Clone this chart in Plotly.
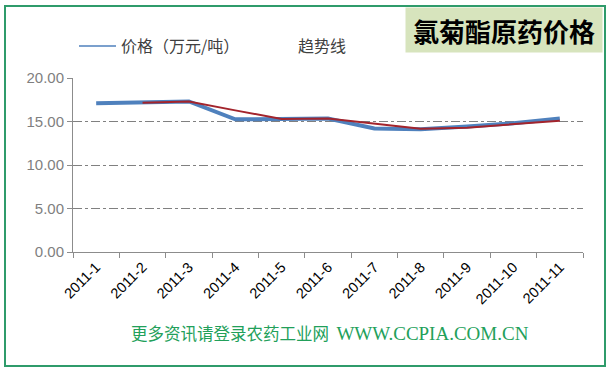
import plotly.graph_objects as go

months = ["2011-1", "2011-2", "2011-3", "2011-4", "2011-5", "2011-6",
          "2011-7", "2011-8", "2011-9", "2011-10", "2011-11"]
price = [17.1, 17.2, 17.3, 15.25, 15.35, 15.35, 14.2, 14.12, 14.42, 14.8, 15.35]
trend = [None, 17.15, 17.3, 16.28, 15.3, 15.35, 14.78, 14.16, 14.28, 14.65, 15.1]
yticks = [0, 5, 10, 15, 20]
ytick_labels = ["0.00", "5.00", "10.00", "15.00", "20.00"]

L, R, T, B = 73, 31, 78, 122
W, H = 614, 374
PW, PH = W - L - R, H - T - B


def px(x):
    return (x - L) / PW


def py(y):
    return (H - B - y) / PH


fig = go.Figure()
fig.add_trace(go.Scatter(
    x=months, y=price, mode="lines", name="价格（万元/吨）",
    line=dict(color="#4f81bd", width=4), showlegend=False))
fig.add_trace(go.Scatter(
    x=months, y=trend, mode="lines", name="趋势线",
    line=dict(color="#a3242c", width=2), showlegend=False))
# legend entries
fig.add_trace(go.Scatter(
    x=[None], y=[None], mode="lines", name="价格（万元/吨）",
    line=dict(color="#4f81bd", width=1.5), legend="legend"))
fig.add_trace(go.Scatter(
    x=[None], y=[None], mode="lines", name="趋势线",
    line=dict(color="rgba(0,0,0,0)", width=2), legend="legend2"))

grid = "#808080"
fig.update_layout(
    width=W, height=H,
    margin=dict(l=L, r=R, t=T, b=B, autoexpand=False),
    paper_bgcolor="white", plot_bgcolor="white",
    font=dict(family="Noto Sans CJK SC, Liberation Sans, sans-serif"),
    xaxis=dict(
        type="category", showgrid=False, showline=True, linecolor="#8c8c8c",
        linewidth=1, ticks="outside", ticklen=5, tickcolor="#8c8c8c",
        tickson="boundaries", tickangle=-45,
        tickfont=dict(family="Liberation Sans", size=14.5, color="#000000"),
        range=[-0.5, 10.5], fixedrange=True, automargin=False),
    yaxis=dict(
        range=[0, 20], tickvals=yticks, ticktext=ytick_labels,
        showgrid=True, gridcolor=grid, griddash="dashdot", gridwidth=1,
        showline=True, linecolor="#8c8c8c", linewidth=1,
        ticks="outside", ticklen=5, tickcolor="#8c8c8c",
        tickfont=dict(family="Liberation Sans", size=15, color="#7f7f7f"),
        zeroline=False, fixedrange=True, automargin=False),
    legend=dict(
        orientation="h", x=px(74), y=py(46), xanchor="left", yanchor="middle",
        bgcolor="rgba(0,0,0,0)", itemwidth=37,
        font=dict(family="Noto Sans CJK SC", size=16, color="#404040")),
    legend2=dict(
        orientation="h", x=px(251), y=py(46), xanchor="left", yanchor="middle",
        bgcolor="rgba(0,0,0,0)", itemwidth=37,
        font=dict(family="Noto Sans CJK SC", size=16, color="#404040")),
    showlegend=True,
)

# title box
fig.add_annotation(
    xref="paper", yref="paper", x=px(603), y=py(7), xanchor="right", yanchor="top",
    text="<b>氯菊酯原药价格</b>", showarrow=False,
    font=dict(family="Noto Sans CJK SC", size=26, color="#000000"),
    bgcolor="#d7e4bd", width=190, height=38, borderpad=3, align="center")

# footer
fig.add_annotation(
    xref="paper", yref="paper", x=px(330), y=py(333), xanchor="center", yanchor="middle",
    text=("更多资讯请登录农药工业网&nbsp;&nbsp;"
          "<span style='font-family:Liberation Serif;font-size:19px'>WWW.CCPIA.COM.CN</span>"),
    showarrow=False,
    font=dict(family="Noto Sans CJK SC", size=16.5, color="#22a05a"))

# outer border
fig.add_shape(type="rect", xref="paper", yref="paper",
              x0=px(5), x1=px(605), y0=py(366), y1=py(6),
              line=dict(color="#2f9b6b", width=2), fillcolor="rgba(0,0,0,0)",
              layer="above")

fig.write_html("out.html", config={"displayModeBar": False},
               post_script="document.body.style.margin='0';document.body.style.overflow='hidden';")
